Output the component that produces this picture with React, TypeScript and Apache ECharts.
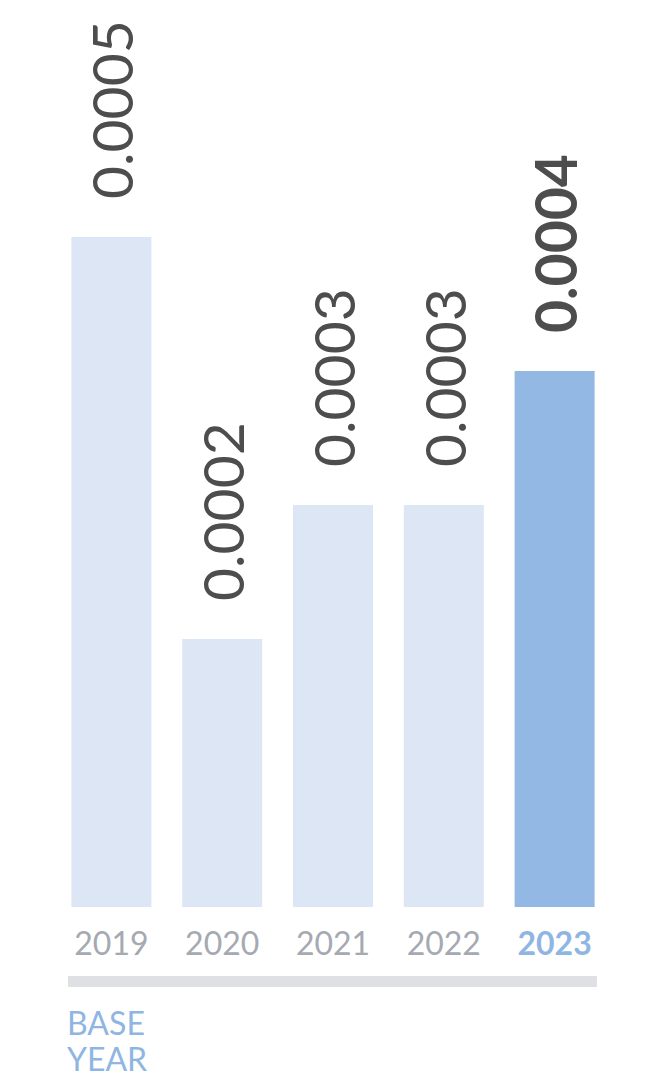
import React, { useEffect, useRef } from "react";
import * as echarts from "echarts";

const years = ["2019", "2020", "2021", "2022", "2023"];
const values = [0.0005, 0.0002, 0.0003, 0.0003, 0.0004];
const highlightIndex = 4;
const baseYearLines = ["BASE", "YEAR"];

const FONT = "Lato, 'Noto Sans', sans-serif";

export default function App() {
  const ref = useRef<HTMLDivElement>(null);
  useEffect(() => {
    document.body.style.margin = "0";
    if (!ref.current) return;
    const chart = echarts.init(ref.current, undefined, { renderer: "svg" });
    chart.setOption({
      animation: false,
      backgroundColor: "#ffffff",
      grid: { left: 56, right: 61, top: 237, bottom: 184, containLabel: false },
      xAxis: {
        type: "category",
        data: years,
        axisLine: { show: false },
        axisTick: { show: false },
        axisLabel: {
          margin: 19,
          formatter: (v: string, i: number) => (i === highlightIndex ? `{hl|${v}}` : `{n|${v}}`),
          rich: {
            n: { color: "#a5a9b1", fontSize: 32, fontFamily: FONT, fontWeight: "normal" },
            hl: { color: "#8fb6e2", fontSize: 32, fontFamily: FONT, fontWeight: "bold" },
          },
        },
      },
      yAxis: {
        type: "value",
        min: 0,
        max: 0.0005,
        show: false,
        splitLine: { show: false },
      },
      series: [
        {
          type: "bar",
          barWidth: 80,
          data: values.map((v, i) => ({
            value: v,
            itemStyle: { color: i === highlightIndex ? "#93b8e3" : "#dce6f5" },
            label: i === highlightIndex ? { fontWeight: "bold" } : undefined,
          })),
          label: {
            show: true,
            position: "top",
            rotate: 90,
            align: "left",
            verticalAlign: "middle",
            distance: 38,
            color: "#4d4d4d",
            fontSize: 57,
            fontFamily: FONT,
            fontWeight: "normal",
            formatter: (p: any) => Number(p.value).toFixed(4),
          },
        },
      ],
      graphic: [
        {
          type: "rect",
          shape: { x: 68, y: 976, width: 529, height: 11 },
          style: { fill: "#dfe0e4" },
        },
        ...baseYearLines.map((t, i) => ({
          type: "text",
          x: 67,
          y: 1022 + i * 36,
          style: {
            text: t,
            fill: "#8fb6e2",
            fontSize: 32,
            fontFamily: FONT,
            lineHeight: 32,
            verticalAlign: "middle",
          },
        })),
      ],
    });
    return () => chart.dispose();
  }, []);
  return <div ref={ref} style={{ width: 671, height: 1091 }} />;
}
